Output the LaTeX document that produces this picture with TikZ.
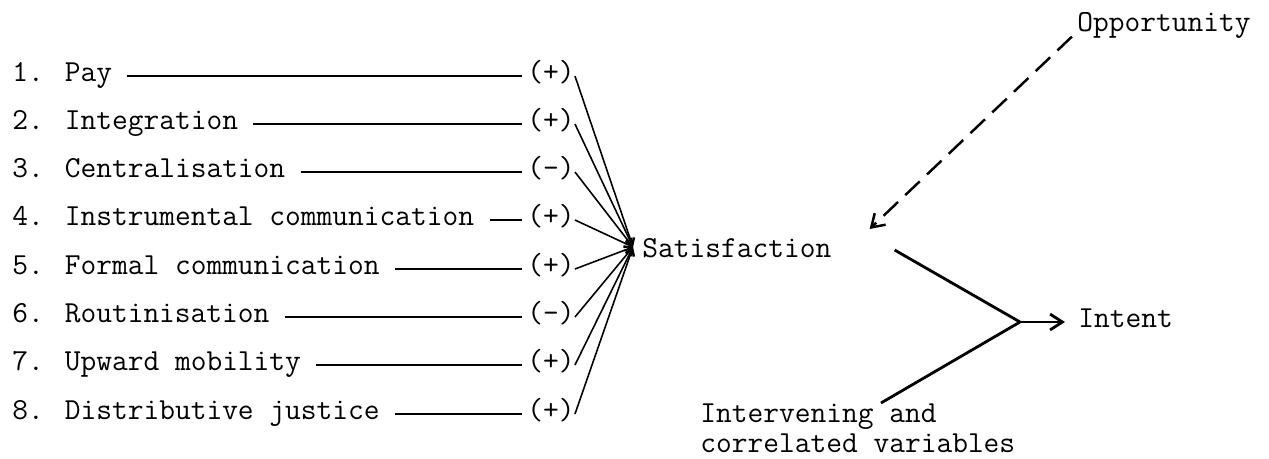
\documentclass[tikz,border=0pt]{standalone}
\usepackage{fontspec}
\usepackage{tikz}
\usetikzlibrary{arrows.meta, positioning}

\tikzset{
  %% Typed label, centred on its capitals
  tlabel/.style={
    inner sep=0pt, text height=0.62em, text depth=0pt
  },
  %% Sign of the effect
  sign/.style={tlabel},
  %% Rule from a variable to its sign
  rule/.style={draw=black, line width=0.9pt,
               shorten <=0.3cm, shorten >=0.1cm},
  %% Thin arrow into the fan
  fan/.style={-{Straight Barb[length=4pt,width=5pt]},
              draw=black, line width=0.9pt},
  %% Heavy line
  harr/.style={draw=black, line width=1.6pt},
  %% Dashed arrow
  darr/.style={-{Straight Barb[length=7pt,width=9pt]},
               draw=black, line width=1.4pt,
               dash pattern=on 0.4cm off 0.2cm},
}

\begin{document}
\begin{tikzpicture}[x=0.02cm, y=-0.02cm,
                    every node/.style={font=\fontsize{17.4pt}{17.1pt}\selectfont\ttfamily}]
  \useasboundingbox (0,0) rectangle (1269,458);

  % variables
  \node[tlabel, anchor=west] (i1) at (12,76)  {1. Pay};
  \node[tlabel, anchor=west] (i2) at (12,124) {2. Integration};
  \node[tlabel, anchor=west] (i3) at (12,172) {3. Centralisation};
  \node[tlabel, anchor=west] (i4) at (12,220) {4. Instrumental communication};
  \node[tlabel, anchor=west] (i5) at (12,269) {5. Formal communication};
  \node[tlabel, anchor=west] (i6) at (12,317) {6. Routinisation};
  \node[tlabel, anchor=west] (i7) at (12,365) {7. Upward mobility};
  \node[tlabel, anchor=west] (i8) at (12,414) {8. Distributive justice};

  % signs
  \node[sign] (s1) at (551,76)  {(+)};
  \node[sign] (s2) at (551,124) {(+)};
  \node[sign] (s3) at (551,172) {(-)};
  \node[sign] (s4) at (551,220) {(+)};
  \node[sign] (s5) at (551,269) {(+)};
  \node[sign] (s6) at (551,317) {(-)};
  \node[sign] (s7) at (551,365) {(+)};
  \node[sign] (s8) at (551,414) {(+)};

  \draw[rule] (i1) -- (s1);
  \draw[rule] (i2) -- (s2);
  \draw[rule] (i3) -- (s3);
  \draw[rule] (i4) -- (s4);
  \draw[rule] (i5) -- (s5);
  \draw[rule] (i6) -- (s6);
  \draw[rule] (i7) -- (s7);
  \draw[rule] (i8) -- (s8);

  % satisfaction and the fan into it
  \node[tlabel, anchor=west] (sat) at (642,252) {Satisfaction};
  \coordinate (fanpt) at ([xshift=-0.18cm, yshift=0.1cm]sat.west);

  \draw[fan] (s1.east) -- (fanpt);
  \draw[fan] (s2.east) -- (fanpt);
  \draw[fan] (s3.east) -- (fanpt);
  \draw[fan] (s4.east) -- (fanpt);
  \draw[fan] (s5.east) -- (fanpt);
  \draw[fan] (s6.east) -- (fanpt);
  \draw[fan] (s7.east) -- (fanpt);
  \draw[fan] (s8.east) -- (fanpt);

  % opportunity
  \node[tlabel, anchor=west] (opp) at (1077,26) {Opportunity};
  \coordinate (mod) at ([xshift=0.76cm, yshift=0.46cm]sat.east);
  \draw[darr, shorten <=4pt] (opp.south west) -- (mod);

  % intervening variables
  \node[inner sep=0pt, align=left, anchor=north west] (ivar) at (700,403)
       {Intervening and\\correlated variables};

  % intent
  \coordinate (jn) at (1020,322);
  \node[tlabel, right=1.16cm of jn] (intent) {Intent};
  \coordinate (satout) at ([xshift=1.26cm, yshift=0.04cm]sat.east);
  \coordinate (ivout) at ([xshift=3.62cm]ivar.north west);

  \draw[harr] (satout) -- (jn);
  \draw[harr] (ivout) -- (jn);
  \draw[harr, -{Straight Barb[length=7pt,width=9pt]}, shorten >=0.26cm]
       (jn) -- (intent.west);

\end{tikzpicture}
\end{document}
